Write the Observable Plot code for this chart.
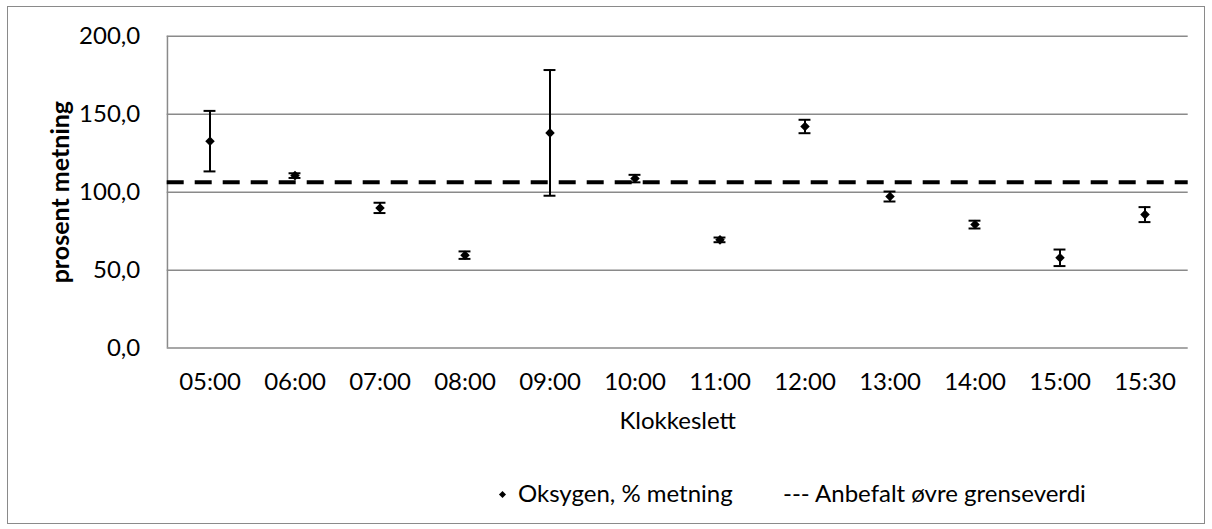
<!DOCTYPE html>
<html>
<head>
<meta charset="utf-8">
<script src="https://cdn.jsdelivr.net/npm/d3@7"></script>
<script src="https://cdn.jsdelivr.net/npm/@observablehq/plot@0.6"></script>
<style>
  html, body { margin: 0; padding: 0; background: #fff; }
  #wrap { position: relative; width: 1212px; height: 529px; font-family: Lato, "Open Sans", sans-serif; color: #000; }
  #border { position: absolute; left: 7px; top: 6px; width: 1196px; height: 516px; border: 1px solid #8a8a8a; box-sizing: content-box; }
  #chart { position: absolute; left: 0; top: 0; }
  .leg { position: absolute; top: 481px; font-size: 24px; line-height: 24px; white-space: nowrap; }
  #legDiamond { position: absolute; left: 500px; top: 492px; width: 5px; height: 5px; background: #000; transform: rotate(45deg); }
</style>
</head>
<body>
<div id="wrap">
  <div id="border"></div>
  <div id="chart"></div>
  <div id="legDiamond"></div>
  <div class="leg" id="leg1" style="left:518px"></div>
  <div class="leg" id="leg2" style="left:783px"></div>
</div>
<script>
// ---- data ----
const times = ["05:00", "06:00", "07:00", "08:00", "09:00", "10:00", "11:00", "12:00", "13:00", "14:00", "15:00", "15:30"];
const oxygen = [132.7, 110.6, 89.9, 59.6, 138.0, 108.7, 69.4, 142.1, 97.2, 79.2, 57.9, 85.6];
const errors = [19.4, 1.5, 3.3, 2.4, 40.3, 2.4, 1.5, 4.3, 3.2, 2.5, 5.3, 4.8];
const limit = [106.3];
const yTicks = [0, 50, 100, 150, 200];
const seriesName = "Oksygen, % metning";
const limitName = "--- Anbefalt øvre grenseverdi";
const xTitle = "Klokkeslett";
const yTitle = "prosent metning";

const data = times.map((t, i) => ({time: t, value: oxygen[i], lo: oxygen[i] - errors[i], hi: oxygen[i] + errors[i]}));

const W = 1212, H = 440, mL = 166.7, mR = 24.3, mT = 35.7, mB = 92.4;
const halfBand = (W - mL - mR) / times.length / 2;
const capInset = halfBand - 6;
const grid = "#8a8a8a";

const chart = Plot.plot({
  width: W, height: H,
  marginLeft: mL, marginRight: mR, marginTop: mT, marginBottom: mB,
  style: {fontFamily: "Lato, 'Open Sans', sans-serif", fontSize: "24px", color: "#000", background: "transparent", overflow: "visible"},
  x: {type: "band", domain: times, padding: 0, tickSize: 0, tickPadding: 25, label: null},
  y: {domain: [0, 200], ticks: yTicks, tickSize: 0, tickPadding: 27, label: null,
      tickFormat: d => d.toFixed(1).replace(".", ",")},
  marks: [
    Plot.ruleY(yTicks, {stroke: grid, strokeWidth: 1.5}),
    Plot.ruleX([times[0]], {y1: 0, y2: 200, stroke: grid, strokeWidth: 1.5, dx: -halfBand}),
    Plot.ruleY(limit, {stroke: "#000", strokeWidth: 4, strokeDasharray: "17,11"}),
    Plot.ruleX(data, {x: "time", y1: "lo", y2: "hi", stroke: "#000", strokeWidth: 2}),
    Plot.tickY(data, {x: "time", y: "hi", stroke: "#000", strokeWidth: 2, insetLeft: capInset, insetRight: capInset}),
    Plot.tickY(data, {x: "time", y: "lo", stroke: "#000", strokeWidth: 2, insetLeft: capInset, insetRight: capInset}),
    Plot.dot(data, {x: "time", y: "value", symbol: "diamond2", r: 4.3, fill: "#000", stroke: "none"}),
    Plot.text([yTitle], {frameAnchor: "left", textAnchor: "middle", dx: -106, rotate: -90, fontWeight: "bold", fontSize: 25, fill: "#000"}),
    Plot.text([xTitle], {frameAnchor: "bottom", textAnchor: "middle", dy: 81, fontSize: 24, fill: "#000"})
  ]
});
document.getElementById("chart").appendChild(chart);
document.getElementById("leg1").textContent = seriesName;
document.getElementById("leg2").textContent = limitName;
</script>
</body>
</html>
